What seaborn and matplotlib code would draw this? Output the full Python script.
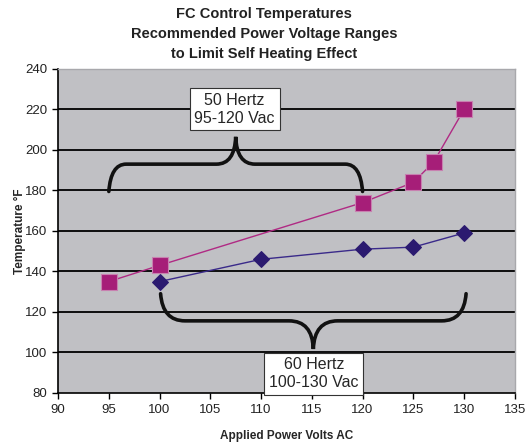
import pandas as pd
import matplotlib
matplotlib.use("Agg")
import matplotlib.pyplot as plt
import seaborn as sns
from matplotlib.path import Path
from matplotlib.patches import PathPatch

# chart data
volts_50hz = [95, 100, 120, 125, 127, 130]
temps_50hz = [135, 143, 174, 184, 194, 220]

volts_60hz = [100, 110, 120, 125, 130]
temps_60hz = [135, 146, 151, 152, 159]

x_ticks = [90, 95, 100, 105, 110, 115, 120, 125, 130, 135]
y_ticks = [80, 100, 120, 140, 160, 180, 200, 220, 240]

title_text = "FC Control Temperatures\nRecommended Power Voltage Ranges\nto Limit Self Heating Effect"
x_label = "Applied Power Volts AC"
y_label = "Temperature \u00b0F"

range_50hz = (95, 120)
range_60hz = (100, 130)
label_50hz = "50 Hertz\n95-120 Vac"
label_60hz = "60 Hertz\n100-130 Vac"

sns.set_style("ticks", {"axes.facecolor": "#C0C0C4"})
plt.rcParams["font.family"] = ["Liberation Sans", "DejaVu Sans"]

fig = plt.figure(figsize=(5.28, 4.45), dpi=100)
ax = fig.add_axes([0.110, 0.117, 0.865, 0.728])


def brace(ax, x0, x1, y_end, y_flat, y_tip, bend, turn):
    # curly brace drawn as a bezier path; tip in the middle
    xm = (x0 + x1) / 2
    verts = [
        (x0, y_end), (x0 + 0.2, y_flat), (x0 + bend, y_flat),
        (xm - turn, y_flat),
        (xm - 0.1, y_flat), (xm, y_tip),
        (xm + 0.1, y_flat), (xm + turn, y_flat),
        (x1 - bend, y_flat),
        (x1 - 0.2, y_flat), (x1, y_end),
    ]
    codes = [Path.MOVETO, Path.CURVE3, Path.CURVE3, Path.LINETO,
             Path.CURVE3, Path.CURVE3, Path.CURVE3, Path.CURVE3,
             Path.LINETO, Path.CURVE3, Path.CURVE3]
    ax.add_patch(PathPatch(Path(verts, codes), fill=False, lw=2.6,
                           ec="#111111", capstyle="round", zorder=3))


for yv in y_ticks[1:-1]:
    ax.axhline(yv, color="black", lw=1.3, zorder=1)

df50 = pd.DataFrame({"volts": volts_50hz, "temp": temps_50hz})
df60 = pd.DataFrame({"volts": volts_60hz, "temp": temps_60hz})

sns.lineplot(data=df50, x="volts", y="temp", ax=ax, color="#B02A84",
             lw=1.0, marker="s", markersize=11, markerfacecolor="#A61E78",
             markeredgecolor="#C880B0", markeredgewidth=0.8, zorder=4)
sns.lineplot(data=df60, x="volts", y="temp", ax=ax, color="#3A2A8A",
             lw=1.0, marker="D", markersize=8.5, markerfacecolor="#2B1A70",
             markeredgecolor="#2B1A70", zorder=4)

brace(ax, range_50hz[0], range_50hz[1], 179.5, 193, 206.5, 1.7, 1.9)
brace(ax, range_60hz[0] + 0.1, range_60hz[1] + 0.2, 129, 115.6, 101.7, 2.4, 2.4)

box = dict(boxstyle="square,pad=0.3", fc="white", ec="#333333", lw=0.8)
ax.text(107.4, 220, label_50hz, ha="center", va="center", fontsize=11.5,
        linespacing=1.2, bbox=box, zorder=5)
ax.text(115.2, 89.5, label_60hz, ha="center", va="center", fontsize=11.5,
        linespacing=1.2, bbox=box, zorder=6, clip_on=False)

ax.set_xlim(90, 135)
ax.set_ylim(80, 240)
ax.set_xticks(x_ticks)
ax.set_yticks(y_ticks)
ax.tick_params(labelsize=9.5, length=4, width=1, color="black", pad=4)
for lab in ax.get_xticklabels() + ax.get_yticklabels():
    lab.set_color("#222222")

for side in ["left", "bottom"]:
    ax.spines[side].set_color("black")
    ax.spines[side].set_linewidth(1.2)
for side in ["top", "right"]:
    ax.spines[side].set_visible(True)
    ax.spines[side].set_color("#A8A8AC")
    ax.spines[side].set_linewidth(1.0)

ax.set_xlabel(x_label, fontsize=8.5, fontweight="bold")
ax.set_ylabel(y_label, fontsize=8.5, fontweight="bold")
ax.xaxis.set_label_coords(0.5, -0.115)
ax.yaxis.set_label_coords(-0.070, 0.5)
fig.suptitle(title_text, fontsize=10.5, fontweight="bold", y=0.985,
             linespacing=1.55, color="#222222")

fig.savefig("out.png", dpi=100)
